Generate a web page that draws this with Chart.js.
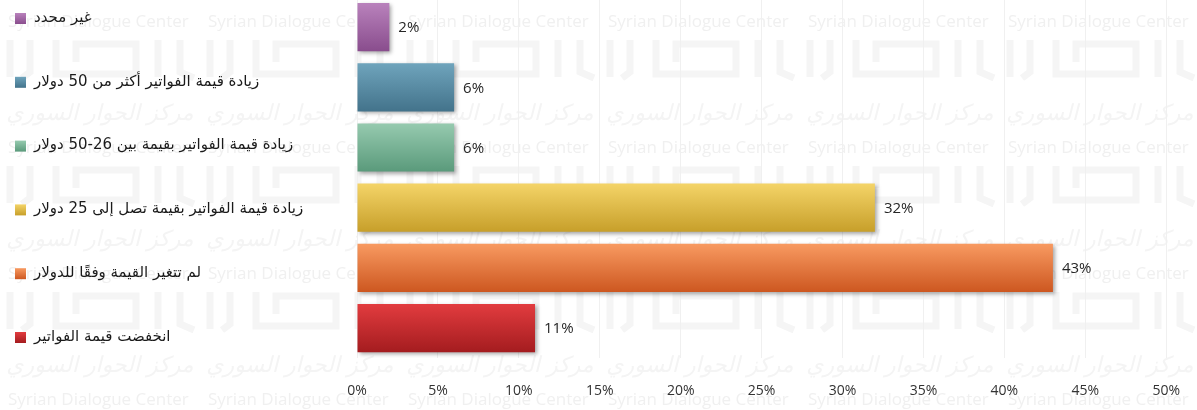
<!DOCTYPE html>
<html lang="ar">
<head>
<meta charset="UTF-8">
<title>قيمة الفواتير</title>
<script src="https://cdn.jsdelivr.net/npm/chart.js"></script>
<style>
  html, body { margin: 0; padding: 0; background: #fff; overflow: hidden; }
  #wrap { position: absolute; left: 0; top: -3px; width: 1204px; height: 426px; }
</style>
</head>
<body>
<div id="wrap"><canvas id="billChart"></canvas></div>
<script>
// categories, top to bottom
const categories = [
  'غير محدد',
  'زيادة قيمة الفواتير أكثر من 50 دولار',
  'زيادة قيمة الفواتير بقيمة بين 26-50 دولار',
  'زيادة قيمة الفواتير بقيمة تصل إلى 25 دولار',
  'لم تتغير القيمة وفقًا للدولار',
  'انخفضت قيمة الفواتير'
];
const values = [2, 6, 6, 32, 43, 11];
const tickValues = [0, 5, 10, 15, 20, 25, 30, 35, 40, 45, 50];

// gradient colours per bar (top, bottom)
const topColors = ['#b982bc', '#6fa4bc', '#96caaf', '#f4d468', '#f89a61', '#e23c3f'];
const bottomColors = ['#894d8d', '#43738b', '#5a9a7b', '#c79f2a', '#cd5720', '#a41c1f'];

function barGradient(context) {
  const chart = context.chart;
  const y = chart.scales.y;
  const i = context.dataIndex;
  if (!y || i === undefined) return topColors[0];
  const band = Math.abs(y.getPixelForValue(1) - y.getPixelForValue(0));
  const yc = y.getPixelForValue(i);
  if (!isFinite(band) || !isFinite(yc) || band === 0) return topColors[i];
  const g = chart.ctx.createLinearGradient(0, yc - band * 0.4, 0, yc + band * 0.4);
  g.addColorStop(0, topColors[i]);
  g.addColorStop(1, bottomColors[i]);
  return g;
}

const watermark = {
  id: 'watermark',
  beforeDraw(chart) {
    const ctx = chart.ctx;
    ctx.save();
    ctx.fillStyle = '#ffffff';
    ctx.fillRect(0, 0, chart.width, chart.height);
    for (let r = -1; r < 4; r++) {
      for (let c = 0; c < 6; c++) {
        const x0 = 8 + c * 200;
        const y0 = 25 + r * 126;
        ctx.fillStyle = '#f0f0f0';
        ctx.font = '17px "Open Sans"';
        ctx.textAlign = 'left';
        ctx.textBaseline = 'middle';
        ctx.fillText('Syrian Dialogue Center', x0, y0);
        // rough logo strokes
        ctx.strokeStyle = '#f5f5f5';
        ctx.lineWidth = 7;
        ctx.beginPath();
        ctx.moveTo(x0 + 2, y0 + 18); ctx.lineTo(x0 + 2, y0 + 55);
        ctx.moveTo(x0 + 22, y0 + 18); ctx.lineTo(x0 + 22, y0 + 50); ctx.lineTo(x0 + 14, y0 + 56);
        ctx.moveTo(x0 + 48, y0 + 18); ctx.lineTo(x0 + 48, y0 + 52); ctx.lineTo(x0 + 128, y0 + 52);
        ctx.lineTo(x0 + 128, y0 + 22); ctx.lineTo(x0 + 68, y0 + 22); ctx.lineTo(x0 + 68, y0 + 40);
        ctx.moveTo(x0 + 150, y0 + 18); ctx.lineTo(x0 + 150, y0 + 55);
        ctx.moveTo(x0 + 172, y0 + 18); ctx.lineTo(x0 + 172, y0 + 50); ctx.lineTo(x0 + 186, y0 + 56);
        ctx.stroke();
        ctx.fillStyle = '#f4f4f4';
        ctx.font = 'italic 22px "DejaVu Sans"';
        ctx.textAlign = 'center';
        ctx.fillText('مركز الحوار السوري', x0 + 92, y0 + 92);
      }
    }
    ctx.restore();
  }
};

const barShadow = {
  id: 'barShadow',
  beforeDatasetDraw(chart) {
    const ctx = chart.ctx;
    ctx.save();
    ctx.shadowColor = 'rgba(0,0,0,0.35)';
    ctx.shadowBlur = 4;
    ctx.shadowOffsetX = 2;
    ctx.shadowOffsetY = 2;
  },
  afterDatasetDraw(chart) {
    chart.ctx.restore();
  }
};

const valueLabels = {
  id: 'valueLabels',
  afterDatasetsDraw(chart) {
    const ctx = chart.ctx;
    const meta = chart.getDatasetMeta(0);
    ctx.save();
    ctx.font = '15px "Open Sans"';
    ctx.fillStyle = '#262626';
    ctx.textAlign = 'left';
    ctx.textBaseline = 'middle';
    meta.data.forEach((bar, i) => {
      ctx.fillText(values[i] + '%', bar.x + 9, bar.y + 1);
    });
    ctx.restore();
  }
};

const sideLegend = {
  id: 'sideLegend',
  afterDraw(chart) {
    const ctx = chart.ctx;
    ctx.save();
    ctx.font = '15px "DejaVu Sans"';
    ctx.textBaseline = 'middle';
    ctx.textAlign = 'left';
    categories.forEach((label, i) => {
      const y = 21 + i * 63.8;
      const g = ctx.createLinearGradient(0, y - 5, 0, y + 6);
      g.addColorStop(0, topColors[i]);
      g.addColorStop(1, bottomColors[i]);
      ctx.fillStyle = g;
      ctx.fillRect(15, y - 5, 11, 11);
      ctx.fillStyle = '#1a1a1a';
      ctx.fillText(label, 34, y);
    });
    ctx.restore();
  }
};

new Chart(document.getElementById('billChart'), {
  type: 'bar',
  data: {
    labels: categories,
    datasets: [{
      data: values,
      backgroundColor: barGradient,
      borderWidth: 0,
      barPercentage: 0.8,
      categoryPercentage: 1.0
    }]
  },
  options: {
    indexAxis: 'y',
    responsive: true,
    maintainAspectRatio: false,
    animation: false,
    layout: { padding: { left: 357, right: 26, top: 0, bottom: 0 } },
    plugins: { legend: { display: false }, tooltip: { enabled: false } },
    scales: {
      x: {
        min: 0,
        max: 50,
        afterBuildTicks(scale) { scale.ticks = tickValues.map(v => ({ value: v })); },
        ticks: {
          callback: v => v + '%',
          color: '#333333',
          font: { family: 'Open Sans', size: 14 },
          padding: 24,
          maxRotation: 0
        },
        grid: { color: '#f0f0f0', drawTicks: false },
        border: { display: false }
      },
      y: { display: false }
    }
  },
  plugins: [watermark, barShadow, valueLabels, sideLegend]
});
</script>
</body>
</html>
